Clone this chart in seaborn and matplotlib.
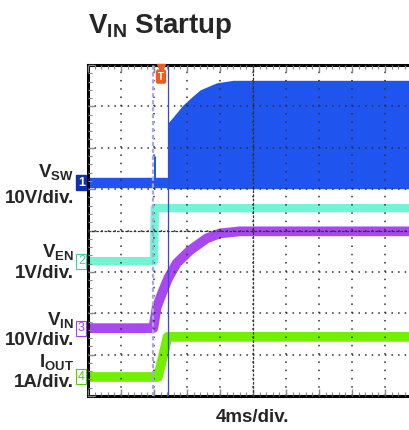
import numpy as np
import seaborn as sns
import matplotlib.pyplot as plt
import matplotlib.transforms as mtransforms
from matplotlib.ticker import MultipleLocator

# ──────────────────────────────────────────────
# Data (time in ms, 4 ms/div)
# ──────────────────────────────────────────────

vsw_low_t = [0.0, 9.7]
vsw_low_v = [0.0, 0.0]
vsw_spike_t = [8.15, 8.15]
vsw_spike_v = [-0.4, 6.3]
vsw_env_t = [9.7, 10.3, 11.5, 12.6, 13.6, 15.6, 17.6, 40.0]
vsw_env_top = [14.5, 15.9, 18.8, 20.8, 22.5, 24.2, 24.8, 24.8]
vsw_env_bottom = [-1.4, -1.4, -1.4, -1.4, -1.4, -1.4, -1.4, -1.4]

ven_t = [0.0, 8.0, 8.1, 40.0]
ven_v = [0.0, 0.0, 1.28, 1.28]

vin_t = [0.0, 7.92, 8.33, 9.13, 9.73, 10.75, 12.36, 14.39, 16.0, 18.4, 40.0]
vin_v = [0.0, 0.0, 5.1, 9.2, 12.1, 15.7, 18.8, 21.7, 22.9, 23.4, 23.4]

iout_t = [0.0, 8.48, 9.09, 9.64, 40.0]
iout_a = [0.0, 0.0, 0.5, 0.97, 0.97]

trigger_t = 7.88
cursor_t = 9.7

# channel ground positions (div) and scales (units/div)
VSW_OFF, VSW_SCALE = 1.15, 10
VEN_OFF, VEN_SCALE = -0.74, 1
VIN_OFF, VIN_SCALE = -2.36, 10
IOUT_OFF, IOUT_SCALE = -3.54, 1

C_SW = "#1f55ee"
C_EN = "#72f5d4"
C_IN = "#a848f0"
C_OUT = "#72f000"

# ──────────────────────────────────────────────
# Style
# ──────────────────────────────────────────────

sns.set_style("white")
plt.rcParams["font.family"] = ["Liberation Sans", "DejaVu Sans"]
plt.rcParams["font.weight"] = "bold"
plt.rcParams["mathtext.fontset"] = "custom"
plt.rcParams["mathtext.rm"] = "Liberation Sans:bold"
plt.rcParams["mathtext.bf"] = "Liberation Sans:bold"
plt.rcParams["lines.scale_dashes"] = False

fig = plt.figure(figsize=(4.1, 4.3), dpi=100)
pos = [88 / 410, 34 / 430, 330 / 410, 331 / 430]
ax = fig.add_axes(pos)

# ──────────────────────────────────────────────
# Traces
# ──────────────────────────────────────────────

ax.fill_between(vsw_env_t,
                VSW_OFF + np.array(vsw_env_bottom) / VSW_SCALE,
                VSW_OFF + np.array(vsw_env_top) / VSW_SCALE,
                color=C_SW, lw=0, zorder=1)
sns.lineplot(x=vsw_low_t, y=VSW_OFF + np.array(vsw_low_v) / VSW_SCALE, ax=ax,
             color=C_SW, lw=7.5, sort=False, estimator=None, solid_capstyle="butt")
sns.lineplot(x=vsw_spike_t, y=VSW_OFF + np.array(vsw_spike_v) / VSW_SCALE, ax=ax,
             color=C_SW, lw=1.4, sort=False, estimator=None, zorder=4)

sns.lineplot(x=ven_t, y=VEN_OFF + np.array(ven_v) / VEN_SCALE, ax=ax,
             color=C_EN, lw=6, sort=False, estimator=None, solid_capstyle="butt")
sns.lineplot(x=vin_t, y=VIN_OFF + np.array(vin_v) / VIN_SCALE, ax=ax,
             color=C_IN, lw=7, sort=False, estimator=None, solid_capstyle="butt")
sns.lineplot(x=iout_t, y=IOUT_OFF + np.array(iout_a) / IOUT_SCALE, ax=ax,
             color=C_OUT, lw=7, sort=False, estimator=None, solid_capstyle="butt")

ax.axvline(trigger_t, color="#a8a8e4", lw=1.6, ls=(0, (3, 2)), zorder=3)
ax.axvline(cursor_t, color="#3848d0", lw=0.9, zorder=3.5)

# ──────────────────────────────────────────────
# Scope graticule
# ──────────────────────────────────────────────

ax.set_xlim(0, 40)
ax.set_ylim(-4, 4)
ax.xaxis.set_major_locator(MultipleLocator(4))
ax.xaxis.set_minor_locator(MultipleLocator(0.8))
ax.yaxis.set_major_locator(MultipleLocator(1))
ax.yaxis.set_minor_locator(MultipleLocator(0.2))
ax.set_axisbelow(False)
ax.xaxis.grid(True, color="#303030", lw=1.1, ls=(0, (1.1, 4.86)))
ax.yaxis.grid(True, color="#303030", lw=1.1, ls=(0, (1.1, 3.65)))
ax.tick_params(which="both", direction="in", top=True, bottom=True, left=True,
               right=False, labelbottom=False, labelleft=False, color="#888888")
ax.tick_params(which="major", length=5, width=1)
ax.tick_params(which="minor", length=3, width=0.8)
for s in ["left", "top", "bottom", "right"]:
    ax.spines[s].set_linewidth(2.2)
    ax.spines[s].set_color("black")
ax.set_xlabel("")
ax.set_ylabel("")

# center crosshair
ax2 = fig.add_axes(pos, zorder=ax.get_zorder() + 1)
ax2.patch.set_visible(False)
ax2.set_xlim(0, 40)
ax2.set_ylim(-4, 4)
ax2.spines["left"].set_position(("data", 20))
ax2.spines["bottom"].set_position(("data", 0))
ax2.spines["top"].set_visible(False)
ax2.spines["right"].set_visible(False)
for s in ["left", "bottom"]:
    ax2.spines[s].set_linestyle((0, (1.0, 2.0)))
    ax2.spines[s].set_linewidth(0.9)
    ax2.spines[s].set_color("#333333")
ax2.set_xticks([])
ax2.set_yticks([])
ax2.xaxis.set_minor_locator(MultipleLocator(0.8))
ax2.yaxis.set_minor_locator(MultipleLocator(0.2))
ax2.tick_params(which="minor", direction="inout", length=4, width=0.8,
                color="#333333", labelbottom=False, labelleft=False)

# channel markers
trans = mtransforms.blended_transform_factory(ax.transAxes, ax.transData)
markers = [("1", VSW_OFF, C_SW), ("2", VEN_OFF, "#3fcf9f"),
           ("3", VIN_OFF, "#a040f0"), ("4", IOUT_OFF, "#50d000")]
for num, y, col in markers:
    if num == "1":
        ax.text(-0.02, y, num, transform=trans, ha="center", va="center",
                fontsize=9, color="white", clip_on=False,
                bbox=dict(boxstyle="square,pad=0.12", fc="#1030b0", ec="#1030b0"))
    else:
        ax.text(-0.02, y, num, transform=trans, ha="center", va="center",
                fontsize=9, color=col, fontweight="normal", clip_on=False,
                bbox=dict(boxstyle="square,pad=0.12", fc="white", ec=col, lw=0.8))

# trigger marker
ttrans = mtransforms.blended_transform_factory(ax.transData, ax.transAxes)
ax.plot([8.85], [0.992], marker="v", ms=6, color="#f05a1e", transform=ttrans,
        clip_on=False, zorder=5)
ax.text(8.85, 0.965, "T", transform=ttrans, ha="center", va="center", fontsize=7,
        color="white", zorder=5, clip_on=False,
        bbox=dict(boxstyle="round,pad=0.15", fc="#f05a1e", ec="#f05a1e"))

# ──────────────────────────────────────────────
# Labels
# ──────────────────────────────────────────────

fig.text(88 / 410, 1 - 33 / 430, r"$\mathrm{V_{IN}}$ Startup", fontsize=20,
         fontweight="bold", va="baseline", ha="left")

labels = [(r"$\mathrm{V_{SW}}$", 177), ("10V/div.", 203),
          (r"$\mathrm{V_{EN}}$", 257), ("1V/div.", 278),
          (r"$\mathrm{V_{IN}}$", 325), ("10V/div.", 345),
          (r"$\mathrm{I_{OUT}}$", 367), ("1A/div.", 387)]
for txt, yb in labels:
    fig.text(74 / 410, 1 - yb / 430, txt, fontsize=13.5, fontweight="bold",
             ha="right", va="baseline")

fig.text(253 / 410, 1 - 422 / 430, "4ms/div.", fontsize=13.5, fontweight="bold",
         ha="center", va="baseline")

fig.savefig("out.png", dpi=100)
